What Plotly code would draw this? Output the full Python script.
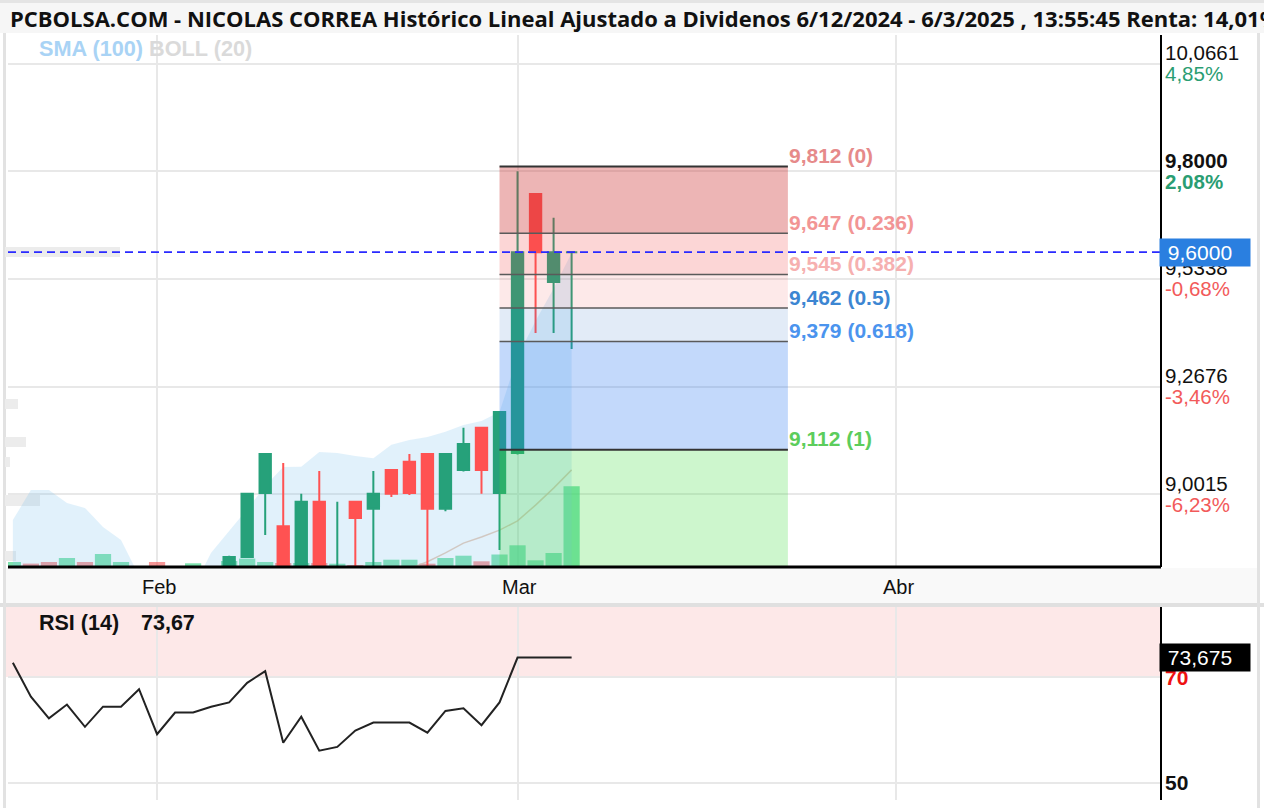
import plotly.graph_objects as go
import pandas as pd

W, H = 1264, 808

# ---------------- data ----------------
# trading calendar used for the x axis (business days)
trading_days = [d.strftime("%Y-%m-%d") for d in pd.bdate_range("2025-01-22", "2025-04-30")]
day_index = {d: i for i, d in enumerate(trading_days)}

series_dates = ["2025-01-22", "2025-01-23", "2025-01-24", "2025-01-27", "2025-01-28", "2025-01-29",
                "2025-01-30", "2025-01-31", "2025-02-03", "2025-02-04", "2025-02-05", "2025-02-06",
                "2025-02-07", "2025-02-10", "2025-02-11", "2025-02-12", "2025-02-13", "2025-02-14",
                "2025-02-17", "2025-02-18", "2025-02-19", "2025-02-20", "2025-02-21", "2025-02-24",
                "2025-02-25", "2025-02-26", "2025-02-27", "2025-02-28", "2025-03-03", "2025-03-04",
                "2025-03-05", "2025-03-06"]

candle_dates = ["2025-02-07", "2025-02-10", "2025-02-11", "2025-02-12", "2025-02-13", "2025-02-14",
                "2025-02-17", "2025-02-18", "2025-02-19", "2025-02-20", "2025-02-21", "2025-02-24",
                "2025-02-25", "2025-02-26", "2025-02-27", "2025-02-28", "2025-03-03", "2025-03-04",
                "2025-03-05", "2025-03-06"]
opens = [8.790, 8.847, 9.005, 8.923, 8.800, 8.983, 8.800, 8.983, 8.966, 9.062, 9.082, 9.101,
         8.966, 9.062, 9.166, 9.005, 9.104, 9.744, 9.526, 9.600]
highs = [8.850, 9.003, 9.101, 9.079, 9.003, 9.059, 8.983, 8.983, 9.059, 9.062, 9.101, 9.101,
         9.101, 9.166, 9.166, 9.205, 9.800, 9.744, 9.685, 9.600]
lows = [8.770, 8.845, 8.901, 8.790, 8.790, 8.790, 8.790, 8.790, 8.810, 8.995, 9.000, 8.800,
        8.960, 9.058, 9.003, 8.864, 9.100, 9.400, 9.400, 9.361]
closes = [8.847, 9.003, 9.101, 8.800, 8.983, 8.800, 8.815, 8.943, 9.003, 9.003, 9.005, 8.966,
          9.101, 9.126, 9.062, 9.205, 9.600, 9.600, 9.600, 9.600]

volumes = [5000, 3400, 5000, 9000, 5000, 13000, 5000, 0, 5000, 0, 3700, 0,
           6000, 8400, 5000, 4000, 4000, 4000, 3300, 2000, 5000, 7300, 7300, 3300,
           9000, 11300, 5700, 12500, 21700, 6700, 14000, 80700]
volume_up = [1, 0, 0, 1, 0, 1, 1, 0, 0, 0, 1, 0,
             1, 1, 1, 0, 1, 0, 1, 0, 1, 1, 1, 0,
             1, 1, 0, 1, 1, 1, 1, 1]

boll_upper = [8.938, 9.012, 9.012, 8.980, 8.968, 8.921, 8.889, 8.800, 8.760, 8.750, 8.770, 8.857,
              8.911, 8.965, 9.022, 9.069, 9.070, 9.106, 9.104, 9.096, 9.091, 9.124, 9.136, 9.143,
              9.156, 9.173, 9.183, 9.205, 9.341, 9.430, 9.510, 9.598]
boll_mid = [8.680, 8.690, 8.700, 8.700, 8.695, 8.690, 8.690, 8.685, 8.680, 8.680, 8.685, 8.690,
            8.700, 8.710, 8.725, 8.740, 8.755, 8.770, 8.780, 8.790, 8.800, 8.810, 8.818, 8.835,
            8.857, 8.881, 8.896, 8.913, 8.936, 8.975, 9.017, 9.062]
boll_lower = [8.420, 8.410, 8.405, 8.400, 8.402, 8.405, 8.410, 8.415, 8.420, 8.425, 8.430, 8.435,
              8.440, 8.445, 8.450, 8.455, 8.460, 8.470, 8.480, 8.490, 8.500, 8.510, 8.520, 8.530,
              8.545, 8.560, 8.580, 8.600, 8.520, 8.500, 8.520, 8.530]

rsi = [72.7, 66.3, 62.2, 64.8, 60.6, 64.4, 64.4, 67.7, 59.2, 63.3, 63.3, 64.4,
       65.2, 68.9, 71.1, 57.6, 62.5, 56.1, 56.8, 59.9, 61.4, 61.4, 61.4, 59.5,
       63.6, 64.1, 60.9, 65.2, 73.675, 73.675, 73.675, 73.675]

price_levels = [10.0661, 9.8000, 9.5338, 9.2676, 9.0015]
price_pcts = ["4,85%", "2,08%", "-0,68%", "-3,46%", "-6,23%"]
current_price = 9.6000
rsi_last = 73.675
rsi_label_value = "73,67"

fib_ratios = ["0", "0.236", "0.382", "0.5", "0.618", "1"]
fib_prices = [9.812, 9.647, 9.545, 9.462, 9.379, 9.112]
fib_start, fib_end = "2025-02-28", "2025-03-24"

month_ticks = ["2025-02-03", "2025-03-03", "2025-04-01"]
month_labels = ["Feb", "Mar", "Abr"]

price_range = [8.822, 10.1367]
rsi_range = [46.79, 83.21]
x_range = [-0.27, 63.7]

# ---------------- styling ----------------
GREEN = "#26a17a"
RED = "#ff5252"
FONT = "Liberation Sans"

xs = [day_index[d] for d in series_dates]
cx = [day_index[d] for d in candle_dates]

def py(p):
    return 1 - p / H

def pxx(p):
    return p / W

X0, X1 = pxx(8), pxx(1161)
MAIN = [py(567), py(35)]
RSIDOM = [py(800), py(607)]

fig = go.Figure()

# volume (bottom layer, on main y axis)
fig.add_trace(go.Bar(
    x=xs, y=volumes, xaxis="x", yaxis="y",
    marker=dict(color=["rgba(70,215,140,0.70)" if u else "rgba(240,80,80,0.60)" for u in volume_up],
                line=dict(width=0)),
    hoverinfo="skip", showlegend=False))

# Bollinger band (own overlay so it stays beneath candles)
fig.add_trace(go.Scatter(x=xs, y=boll_lower, xaxis="x", yaxis="y3", mode="lines",
                         line=dict(width=0, color="rgba(0,0,0,0)"), showlegend=False, hoverinfo="skip"))
fig.add_trace(go.Scatter(x=xs, y=boll_upper, xaxis="x", yaxis="y3", mode="lines", fill="tonexty",
                         fillcolor="rgba(130,195,240,0.24)", line=dict(width=0, color="rgba(0,0,0,0)"),
                         showlegend=False, hoverinfo="skip"))
fig.add_trace(go.Scatter(x=xs, y=boll_mid, xaxis="x", yaxis="y3", mode="lines",
                         line=dict(width=1.5, color="rgba(205,190,180,0.8)"), showlegend=False, hoverinfo="skip"))

# candles
fig.add_trace(go.Candlestick(
    x=cx, open=opens, high=highs, low=lows, close=closes, xaxis="x", yaxis="y4",
    increasing=dict(line=dict(color=GREEN, width=2), fillcolor=GREEN),
    decreasing=dict(line=dict(color=RED, width=2), fillcolor=RED),
    whiskerwidth=0, showlegend=False, hoverinfo="skip"))

# RSI
fig.add_trace(go.Scatter(x=xs, y=rsi, xaxis="x2", yaxis="y2", mode="lines",
                         line=dict(color="#222222", width=2), showlegend=False, hoverinfo="skip"))

month_idx = [day_index[d] for d in month_ticks]
grid = "#e8e8e8"

fig.update_layout(
    width=W, height=H, margin=dict(l=0, r=0, t=0, b=0),
    paper_bgcolor="white", plot_bgcolor="rgba(0,0,0,0)",
    bargap=0.1, boxgap=0.1, showlegend=False,
    xaxis=dict(domain=[X0, X1], range=x_range, anchor="y", tickvals=month_idx, showticklabels=False,
               showgrid=True, gridcolor=grid, gridwidth=2, zeroline=False, ticks="",
               rangeslider=dict(visible=False)),
    yaxis=dict(domain=MAIN, range=[0, 532000], showgrid=False, showticklabels=False, zeroline=False,
               anchor="x"),
    yaxis3=dict(overlaying="y", range=price_range, tickvals=price_levels, showticklabels=False,
                showgrid=True, gridcolor=grid, gridwidth=2, zeroline=False, anchor="x"),
    yaxis4=dict(overlaying="y", range=price_range, showticklabels=False,
                showgrid=False, zeroline=False, anchor="x"),
    xaxis2=dict(domain=[X0, X1], range=x_range, anchor="y2", tickvals=month_idx, showticklabels=False,
                showgrid=True, gridcolor=grid, gridwidth=2, zeroline=False, ticks=""),
    yaxis2=dict(domain=RSIDOM, range=rsi_range, tickvals=[50, 70], showticklabels=False,
                showgrid=True, gridcolor=grid, gridwidth=2, zeroline=False, anchor="x2"),
)

shapes = []
# backgrounds / frame
shapes.append(dict(type="rect", xref="paper", yref="paper", x0=0, x1=1, y0=py(33), y1=1,
                   fillcolor="#f6f6f6", line=dict(width=0), layer="below"))
shapes.append(dict(type="rect", xref="paper", yref="paper", x0=0, x1=1, y0=py(3), y1=1,
                   fillcolor="#e4e4e4", line=dict(width=0), layer="below"))
shapes.append(dict(type="rect", xref="paper", yref="paper", x0=pxx(5), x1=pxx(1258), y0=py(603), y1=py(568),
                   fillcolor="#f9f9f9", line=dict(width=0), layer="below"))
shapes.append(dict(type="rect", xref="paper", yref="paper", x0=0, x1=1, y0=py(607), y1=py(603),
                   fillcolor="#e0e0e0", line=dict(width=0), layer="below"))
for xp in (4.5, 1258.5):
    shapes.append(dict(type="line", xref="paper", yref="paper", x0=pxx(xp), x1=pxx(xp), y0=0, y1=py(33),
                       line=dict(color="#e2e2e2", width=3), layer="below"))
# RSI overbought zone
shapes.append(dict(type="rect", xref="paper", yref="y2", x0=pxx(6), x1=X1, y0=70, y1=rsi_range[1],
                   fillcolor="#fde8e8", line=dict(width=0), layer="below"))
# faint label remnants on the left
for (a, b, c, d) in [(5, 120, 247, 257), (5, 18, 399, 409), (5, 26, 437, 447), (5, 10, 457, 467),
                     (5, 40, 495, 506), (5, 16, 551, 561)]:
    shapes.append(dict(type="rect", xref="paper", yref="paper", x0=pxx(a), x1=pxx(b), y0=py(d), y1=py(c),
                       fillcolor="#ececec", line=dict(width=0), layer="below"))

# Fibonacci zones (drawn over the candles)
fx0, fx1 = day_index[fib_start], day_index[fib_end]
zone_colors = ["rgba(205,50,50,0.36)", "rgba(240,70,70,0.22)", "rgba(240,70,70,0.12)",
               "rgba(60,120,200,0.15)", "rgba(40,120,240,0.28)", "rgba(60,220,60,0.26)"]
zone_bounds = fib_prices + [price_range[0]]
for k in range(len(fib_prices)):
    shapes.append(dict(type="rect", xref="x", yref="y4", x0=fx0, x1=fx1, y0=zone_bounds[k + 1],
                       y1=zone_bounds[k], fillcolor=zone_colors[k], line=dict(width=0), layer="above"))
for k, p in enumerate(fib_prices):
    strong = k in (0, len(fib_prices) - 1)
    shapes.append(dict(type="line", xref="x", yref="y4", x0=fx0, x1=fx1, y0=p, y1=p,
                       line=dict(color="#333333" if strong else "#5a5a5a", width=2 if strong else 1.5),
                       layer="above"))

# current price dashed line
shapes.append(dict(type="line", xref="paper", yref="y4", x0=X0, x1=X1, y0=current_price, y1=current_price,
                   line=dict(color="#2a2aff", width=1.8, dash="8px,5px"), layer="above"))
# axes lines
shapes.append(dict(type="line", xref="paper", yref="paper", x0=X1, x1=X1, y0=MAIN[0], y1=MAIN[1],
                   line=dict(color="black", width=2), layer="above"))
shapes.append(dict(type="line", xref="paper", yref="paper", x0=X1, x1=X1, y0=RSIDOM[0], y1=RSIDOM[1],
                   line=dict(color="black", width=2), layer="above"))
shapes.append(dict(type="line", xref="paper", yref="paper", x0=X0, x1=X1, y0=MAIN[0], y1=MAIN[0],
                   line=dict(color="black", width=3), layer="above"))
fig.update_layout(shapes=shapes)

ann = []
ann.append(dict(xref="paper", yref="paper", x=pxx(8), y=py(18), xanchor="left", yanchor="middle",
                text="<b>PCBOLSA.COM - NICOLAS CORREA Histórico Lineal Ajustado a Dividenos 6/12/2024 - 6/3/2025 , 13:55:45 Renta: 14,01%</b>",
                showarrow=False, font=dict(family="Open Sans", size=22, color="#111111")))
ann.append(dict(xref="paper", yref="paper", x=pxx(37), y=py(49), xanchor="left", yanchor="middle",
                text="<b><span style='color:#a9d3f5'>SMA (100)</span> <span style='color:#dadada'>BOLL (20)</span></b>",
                showarrow=False, font=dict(family=FONT, size=21.7)))

# right price labels
for v, pc in zip(price_levels, price_pcts):
    bold = abs(v - 9.8) < 1e-6
    txt = f"{v:.4f}".replace(".", ",")
    col = "#2a9d72" if not pc.startswith("-") else "#f25a5a"
    ann.append(dict(xref="paper", yref="y4", x=pxx(1163), y=v, xanchor="left", yanchor="middle", yshift=11,
                    text=f"<b>{txt}</b>" if bold else txt, showarrow=False,
                    font=dict(family=FONT, size=20.5, color="#111111")))
    ann.append(dict(xref="paper", yref="y4", x=pxx(1163), y=v, xanchor="left", yanchor="middle", yshift=-10,
                    text=f"<b>{pc}</b>" if bold else pc, showarrow=False,
                    font=dict(family=FONT, size=20.5, color=col)))
ann.append(dict(xref="paper", yref="y4", x=pxx(1159), y=current_price, xanchor="left", yanchor="middle",
                text=" " + f"{current_price:.4f}".replace(".", ","), showarrow=False, bgcolor="#2a7fe0",
                width=86, align="left", borderpad=2, font=dict(family=FONT, size=21, color="white")))

# fib labels
fib_colors = ["#e68a8a", "#f29595", "#f6b0b0", "#3c86d2", "#4b94ee", "#5ccd5c"]
for r, p, c in zip(fib_ratios, fib_prices, fib_colors):
    ann.append(dict(xref="x", yref="y4", x=fx1, y=p, xanchor="left", yanchor="middle", yshift=11, xshift=-1,
                    text=f"<b>{p:.3f}".replace(".", ",") + f" ({r})</b>", showarrow=False,
                    font=dict(family=FONT, size=21, color=c)))

# month labels
for i, lab in zip(month_idx, month_labels):
    ann.append(dict(xref="x", yref="paper", x=i, y=py(587), xanchor="center", yanchor="middle", xshift=2,
                    text=lab, showarrow=False, font=dict(family=FONT, size=20, color="#111111")))

# RSI labels
ann.append(dict(xref="paper", yref="paper", x=pxx(37), y=py(623), xanchor="left", yanchor="middle",
                text="<b>RSI (14)</b>", showarrow=False, font=dict(family=FONT, size=21.5, color="#111111")))
ann.append(dict(xref="paper", yref="paper", x=pxx(139), y=py(623), xanchor="left", yanchor="middle",
                text=f"<b>{rsi_label_value}</b>", showarrow=False, font=dict(family=FONT, size=21.5, color="#111111")))
ann.append(dict(xref="paper", yref="y2", x=pxx(1163), y=70, xanchor="left", yanchor="middle",
                text="<b>70</b>", showarrow=False, font=dict(family=FONT, size=21, color="#ee1111")))
ann.append(dict(xref="paper", yref="y2", x=pxx(1163), y=50, xanchor="left", yanchor="middle",
                text="<b>50</b>", showarrow=False, font=dict(family=FONT, size=21, color="#111111")))
ann.append(dict(xref="paper", yref="y2", x=pxx(1159), y=rsi_last, xanchor="left", yanchor="middle",
                text=" " + f"{rsi_last:.3f}".replace(".", ","), showarrow=False, bgcolor="black",
                width=86, align="left", borderpad=2, font=dict(family=FONT, size=21, color="white")))
fig.update_layout(annotations=ann)

fig.write_html("out.html")
